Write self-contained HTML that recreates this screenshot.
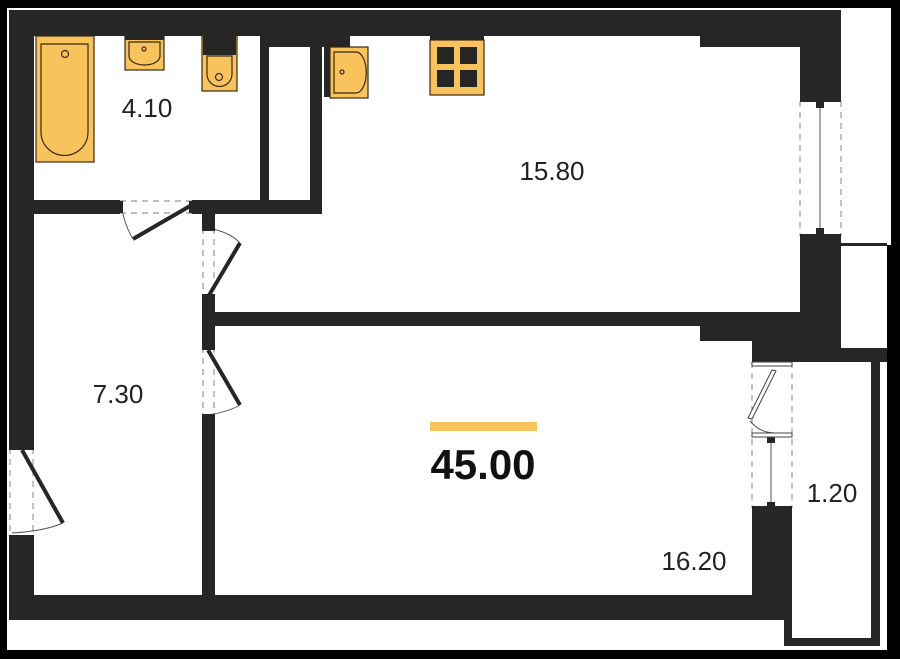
<!DOCTYPE html>
<html><head><meta charset="utf-8"><style>
html,body{margin:0;padding:0;background:#000;}
svg{display:block;}
text{font-family:"Liberation Sans",sans-serif;fill:#222;}
</style></head><body>
<svg width="900" height="659" viewBox="0 0 900 659" xmlns="http://www.w3.org/2000/svg">
<rect x="0" y="0" width="900" height="659" fill="#000"/>
<rect x="7" y="8" width="884" height="642" fill="#fff"/>
<rect x="887" y="245" width="13" height="414" fill="#000"/>
<g fill="#262626">
<rect x="9" y="10" width="832" height="26"/>
<rect x="700" y="10" width="141" height="37"/>
<rect x="800" y="10" width="41" height="91"/>
<rect x="800" y="236" width="41" height="112"/>
<rect x="9" y="10" width="25" height="438"/>
<rect x="9" y="537" width="25" height="83"/>
<rect x="9" y="595" width="775" height="25"/>
<rect x="752" y="508" width="40" height="112"/>
<rect x="752" y="312" width="89" height="50"/>
<rect x="700" y="312" width="52" height="29"/>
<rect x="34" y="200" width="86" height="14"/>
<rect x="192" y="200" width="130" height="14"/>
<rect x="260" y="36" width="9" height="170"/>
<rect x="269" y="36" width="81" height="11"/>
<rect x="310" y="36" width="12" height="178"/>
<rect x="324" y="47" width="6" height="50"/>
<rect x="202" y="214" width="13" height="14"/>
<rect x="202" y="297" width="13" height="50"/>
<rect x="202" y="417" width="13" height="178"/>
<rect x="215" y="312" width="537" height="14"/>
<rect x="784" y="348" width="103" height="14"/>
<rect x="784" y="508" width="8" height="138"/>
<rect x="871" y="348" width="9" height="298"/>
<rect x="784" y="638" width="96" height="8"/>
<rect x="841" y="243" width="46" height="3"/>
</g>
<g stroke="#3a2a10" stroke-width="1.2">
<rect x="36" y="36" width="58" height="126" fill="#F8C25C"/>
<path d="M41 44 H88 V132 A23 23 0 0 1 41 132 Z" fill="#F8C25C"/>
<circle cx="65" cy="54" r="3.5" fill="none"/>
<rect x="125" y="36" width="39" height="34" fill="#F8C25C"/>
<path d="M129 42 H160 V56 A15.5 9 0 0 1 129 56 Z" fill="none"/>
<circle cx="144" cy="49" r="2" fill="none"/>
<rect x="202" y="36" width="35" height="55" fill="#F8C25C"/>
<path d="M207 56 H232 V74 A12.5 12.5 0 0 1 207 74 Z" fill="none"/>
<circle cx="219" cy="77" r="3.5" fill="none"/>
<rect x="330" y="47" width="38" height="51" fill="#F8C25C"/>
<path d="M334 52 H356 A10 20 0 0 1 356 93 H334 Z" fill="none"/>
<circle cx="342" cy="72" r="2" fill="none"/>
<rect x="430" y="40" width="54" height="55" fill="#F8C25C"/>
</g>
<rect x="203" y="36" width="33" height="19" fill="#262626"/>
<rect x="125" y="36" width="39" height="4" fill="#262626"/>
<rect x="430" y="36" width="54" height="4" fill="#262626"/>
<g fill="#262626">
<rect x="437" y="47" width="17" height="17"/><rect x="460" y="47" width="17" height="17"/>
<rect x="437" y="70" width="17" height="17"/><rect x="460" y="70" width="17" height="17"/>
</g>
<g fill="none" stroke="#999" stroke-width="1.2" stroke-dasharray="6,5">
<line x1="120" y1="201" x2="192" y2="201"/><line x1="120" y1="213" x2="192" y2="213"/>
<line x1="203" y1="228" x2="203" y2="297"/><line x1="214" y1="228" x2="214" y2="297"/>
<line x1="203" y1="347" x2="203" y2="417"/><line x1="214" y1="347" x2="214" y2="417"/>
<line x1="10" y1="448" x2="10" y2="537"/><line x1="33" y1="448" x2="33" y2="537"/>
<line x1="800" y1="101" x2="800" y2="236"/><line x1="841" y1="101" x2="841" y2="236"/>
<line x1="752" y1="362" x2="752" y2="508"/><line x1="792" y1="362" x2="792" y2="508"/>
</g>
<g stroke="#262626" stroke-width="4" fill="none">
<line x1="190" y1="206" x2="133" y2="239"/>
<line x1="208" y1="297" x2="240" y2="243"/>
<line x1="208" y1="350" x2="240" y2="405"/>
<line x1="22" y1="450" x2="63" y2="523"/>
</g>
<g stroke="#555" stroke-width="1" fill="none">
<path d="M122 210 Q126 228 133 239"/>
<path d="M208 228 Q230 232 240 243"/>
<path d="M208 415 Q228 412 240 405"/>
<path d="M12 533 Q45 531 63 523"/>
<line x1="820" y1="105" x2="820" y2="233"/>
<line x1="771" y1="440" x2="771" y2="505"/>
<path d="M750 421 Q760 433 775 433"/>
</g>
<path d="M772 370 L748 418 L752 419 L776 371 Z" fill="#fff" stroke="#444" stroke-width="1"/>
<g fill="#262626">
<rect x="118" y="201" width="5" height="12"/><rect x="189" y="201" width="5" height="12"/>
<rect x="202" y="226" width="13" height="5"/><rect x="202" y="294" width="13" height="5"/>
<rect x="202" y="345" width="13" height="5"/><rect x="202" y="414" width="13" height="5"/>
<rect x="9" y="446" width="25" height="4"/><rect x="9" y="535" width="25" height="4"/>
<rect x="800" y="98" width="41" height="4"/><rect x="800" y="234" width="41" height="4"/>
<rect x="816" y="102" width="8" height="6"/><rect x="816" y="228" width="8" height="6"/>
<rect x="767" y="437" width="8" height="6"/><rect x="767" y="502" width="8" height="6"/>
</g>
<rect x="752" y="362" width="40" height="4" fill="#fff" stroke="#444" stroke-width="1"/>
<rect x="752" y="433" width="40" height="4" fill="#fff" stroke="#444" stroke-width="1"/>
<rect x="752" y="506" width="40" height="4" fill="#262626"/>
<text x="147" y="117" font-size="26" text-anchor="middle">4.10</text>
<text x="552" y="180" font-size="26" text-anchor="middle">15.80</text>
<text x="118" y="403" font-size="26" text-anchor="middle">7.30</text>
<text x="694" y="570" font-size="26" text-anchor="middle">16.20</text>
<text x="832" y="502" font-size="26" text-anchor="middle">1.20</text>
<rect x="430" y="422" width="107" height="9" fill="#F8C25C"/>
<text x="483" y="479" font-size="42" font-weight="bold" text-anchor="middle" style="fill:#111">45.00</text>
</svg>
</body></html>
